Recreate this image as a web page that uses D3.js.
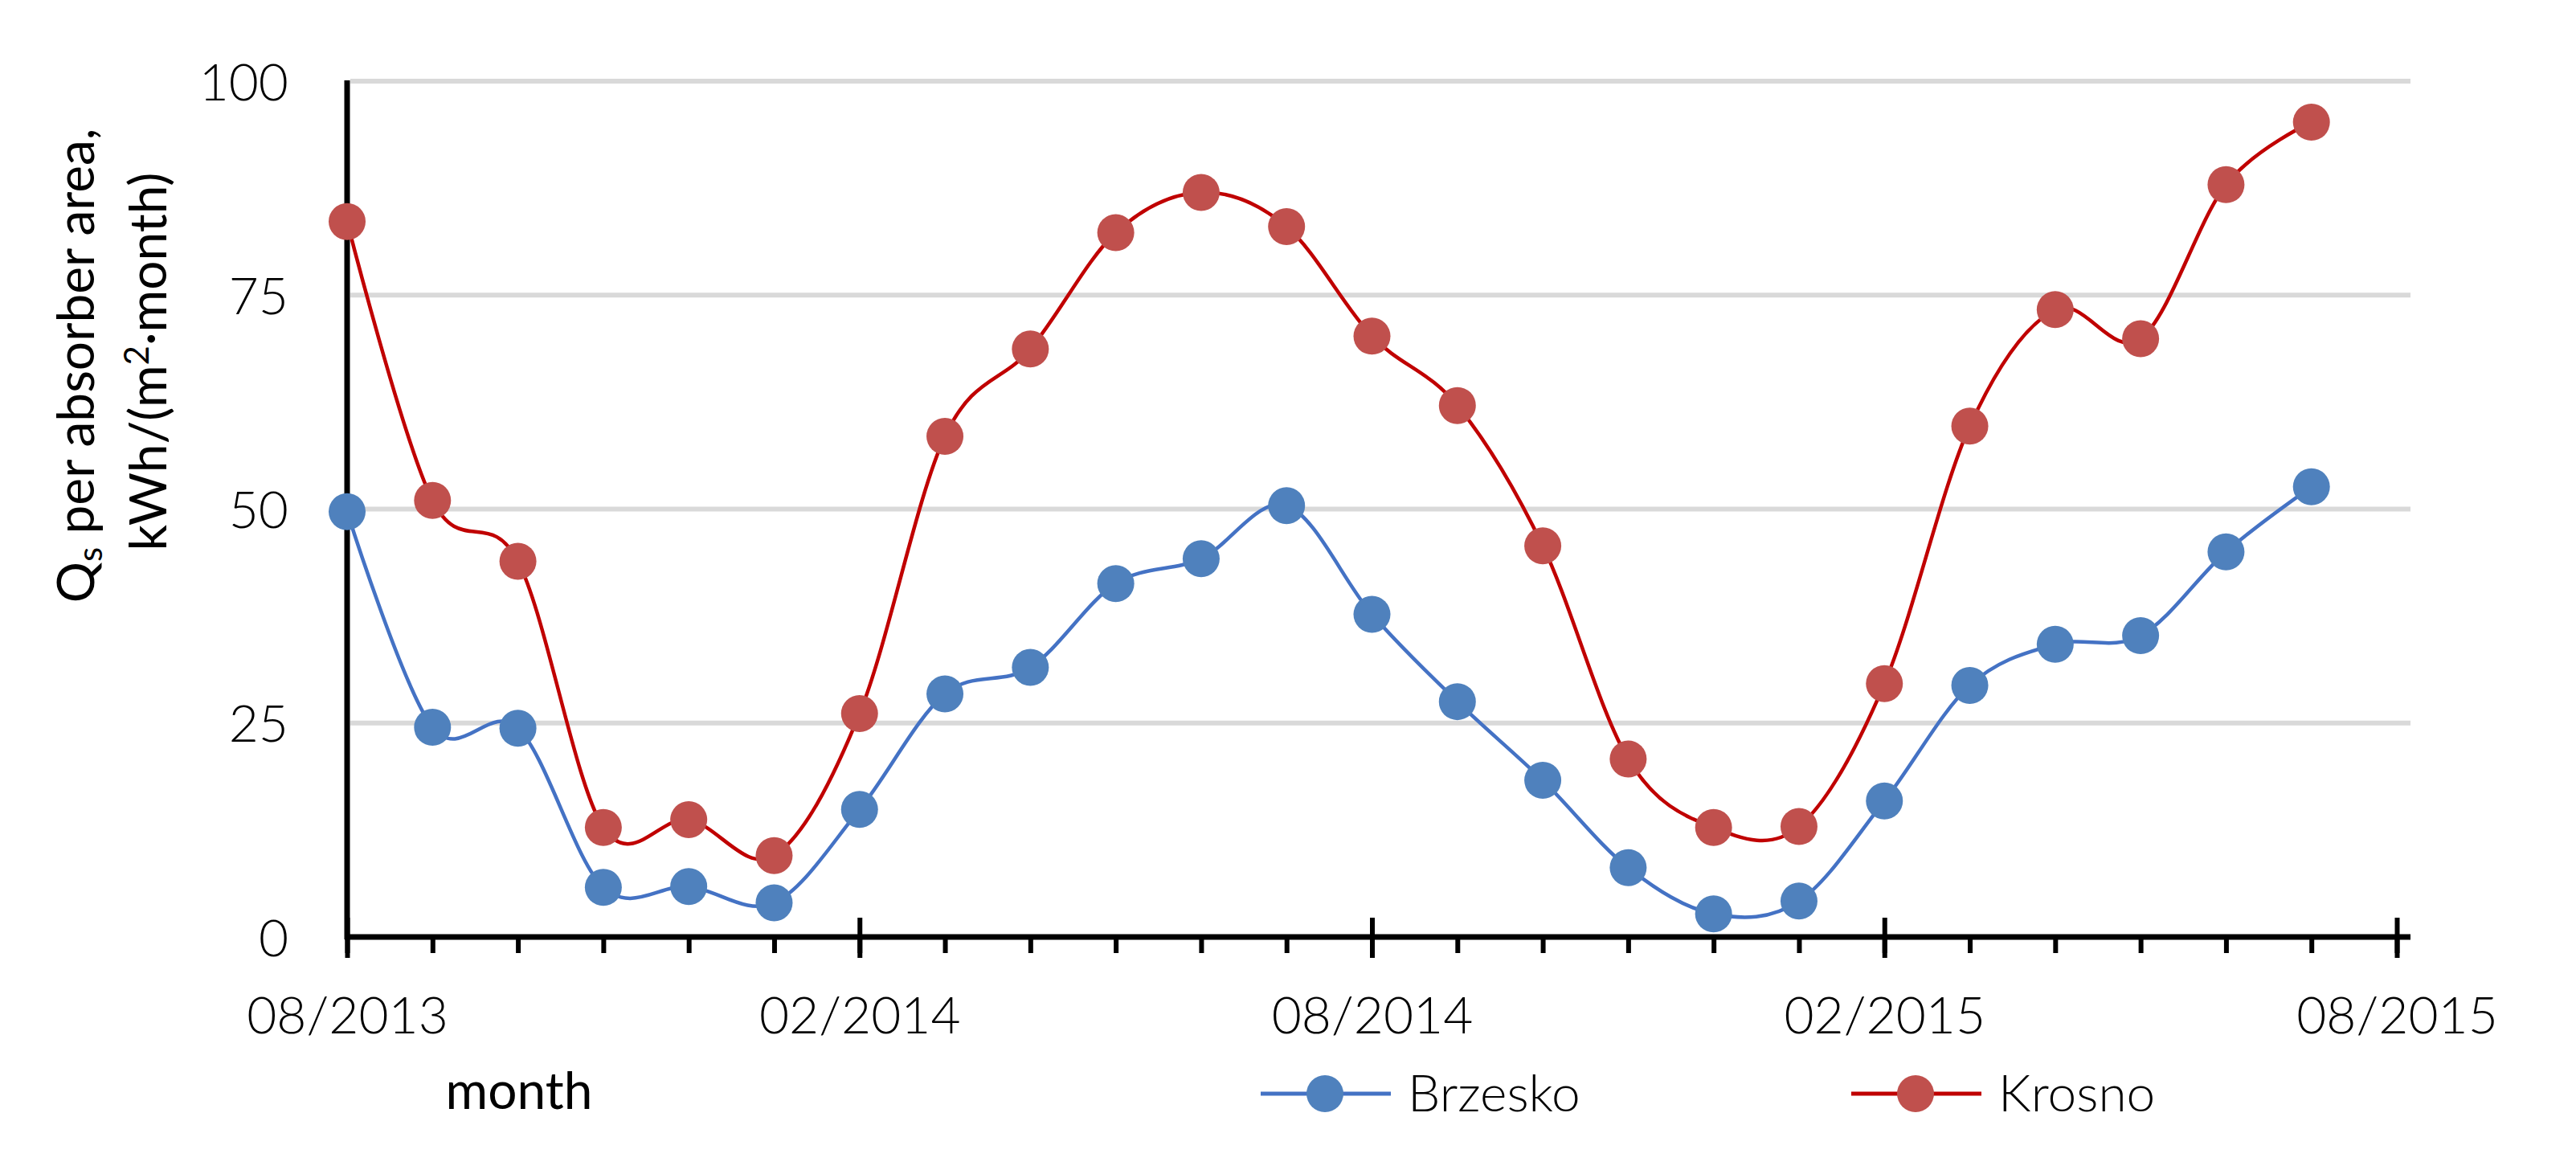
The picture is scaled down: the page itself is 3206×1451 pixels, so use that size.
<!DOCTYPE html>
<html lang="en">
  <head>
    <meta charset="utf-8">
    <title>Qs per absorber area</title>
    <style>
      body { margin: 0; background: #fff; }
      svg text { font-family: Lato, "Open Sans", sans-serif; fill: #000; }
      .grid line { stroke: #d9d9d9; stroke-width: 6px; }
      .axis line { stroke: #000; stroke-width: 6px; }
      .axis path { display: none; }
      .axis text { font-size: 64px; font-weight: 300; }
      .legend text { font-weight: 300; }
    </style>
  </head>
  <body>
    <svg id="chart" width="3206" height="1451"></svg>
<script src="https://d3js.org/d3.v7.min.js"></script>
<script>

// months from 08/2013 to 07/2015
var months = ["08/2013","09/2013","10/2013","11/2013","12/2013","01/2014",
              "02/2014","03/2014","04/2014","05/2014","06/2014","07/2014",
              "08/2014","09/2014","10/2014","11/2014","12/2014","01/2015",
              "02/2015","03/2015","04/2015","05/2015","06/2015","07/2015"];

var brzesko = [49.7, 24.5, 24.4, 5.8, 5.9, 4.0, 14.9, 28.4, 31.5, 41.3, 44.2, 50.4,
               37.7, 27.5, 18.3, 8.1, 2.7, 4.2, 15.9, 29.4, 34.2, 35.2, 45.0, 52.6];

var krosno = [83.6, 51.0, 43.9, 12.8, 13.7, 9.5, 26.1, 58.5, 68.7, 82.3, 87.0, 83.0,
              70.2, 62.1, 45.7, 20.8, 12.8, 12.9, 29.6, 59.7, 73.3, 69.9, 87.9, 95.2];

var xTickIdx = [0, 6, 12, 18, 24];
var xTickLabels = ["08/2013", "02/2014", "08/2014", "02/2015", "08/2015"];
var yTicks = [0, 25, 50, 75, 100];

var series = [
  {name: "Brzesko", values: brzesko, line: "#4472c4", marker: "#4f81bd"},
  {name: "Krosno",  values: krosno,  line: "#c00000", marker: "#c0504d"}
];

var svg = d3.select("#chart");

var x = d3.scaleLinear().domain([0, 24]).range([432, 2983]);
var y = d3.scaleLinear().domain([0, 100]).range([1166, 101]);

// gridlines
svg.append("g").attr("class", "grid")
  .selectAll("line")
  .data(yTicks.slice(1))
  .enter().append("line")
    .attr("x1", x(0) + 4)
    .attr("x2", x(24) + 17)
    .attr("y1", function(d) { return y(d); })
    .attr("y2", function(d) { return y(d); });

// y axis
var yAxis = svg.append("g").attr("class", "axis")
  .attr("transform", "translate(" + x(0) + ",0)")
  .call(d3.axisLeft(y).tickValues(yTicks).tickSize(0).tickPadding(73));
yAxis.selectAll("text").attr("dy", "0.36em");

// minor ticks, monthly
svg.append("g").attr("class", "axis")
  .attr("transform", "translate(0," + y(0) + ")")
  .call(d3.axisBottom(x).tickValues(d3.range(0, 25)).tickSize(20).tickFormat(""));

// major ticks with labels
var xAxis = svg.append("g").attr("class", "axis")
  .attr("transform", "translate(0," + y(0) + ")")
  .call(d3.axisBottom(x).tickValues(xTickIdx).tickSize(26)
          .tickFormat(function(d, i) { return xTickLabels[i]; }));
xAxis.selectAll("line").attr("y1", -24);
xAxis.selectAll("text").attr("y", 120).attr("dy", 0);

// axis lines
svg.append("line")
  .attr("x1", x(0)).attr("x2", x(0))
  .attr("y1", y(100) - 1).attr("y2", y(0) + 3)
  .attr("stroke", "#000").attr("stroke-width", 7);
svg.append("line")
  .attr("x1", x(0) - 3).attr("x2", x(24) + 17)
  .attr("y1", y(0)).attr("y2", y(0))
  .attr("stroke", "#000").attr("stroke-width", 7);

// series
var line = d3.line()
  .x(function(d, i) { return x(i); })
  .y(function(d) { return y(d); })
  .curve(d3.curveCardinal.tension(0));

series.forEach(function(s) {
  svg.append("path")
    .datum(s.values)
    .attr("fill", "none")
    .attr("stroke", s.line)
    .attr("stroke-width", 4.5)
    .attr("d", line);

  svg.append("g")
    .selectAll("circle")
    .data(s.values)
    .enter().append("circle")
      .attr("cx", function(d, i) { return x(i); })
      .attr("cy", function(d) { return y(d); })
      .attr("r", 23)
      .attr("fill", s.marker)
    .append("title").text(function(d, i) { return s.name + " " + months[i] + ": " + d; });
});

// axis titles
var yTitle = svg.append("text")
  .attr("transform", "translate(117,455) rotate(-90)")
  .attr("text-anchor", "middle")
  .style("font-size", "64px");
yTitle.append("tspan").text("Q");
yTitle.append("tspan").attr("dy", 10).style("font-size", "42px").text("s");
yTitle.append("tspan").attr("dy", -10).text(" per absorber area,");

var yTitle2 = svg.append("text")
  .attr("transform", "translate(207,450) rotate(-90)")
  .attr("text-anchor", "middle")
  .style("font-size", "64px");
yTitle2.append("tspan").text("kWh/(m");
yTitle2.append("tspan").attr("dy", -22).style("font-size", "42px").text("2");
yTitle2.append("tspan").attr("dy", 22).text("\u00b7month)");

svg.append("text")
  .attr("x", 646).attr("y", 1380)
  .attr("text-anchor", "middle")
  .style("font-size", "64px")
  .text("month");

// legend
var legendX = [1569, 2304];
var legend = svg.selectAll("g.legend")
  .data(series)
  .enter().append("g")
    .attr("class", "legend")
    .attr("transform", function(d, i) { return "translate(" + legendX[i] + ",1361)"; });

legend.append("line")
  .attr("x1", 0).attr("x2", 162)
  .attr("stroke", function(d) { return d.line; })
  .attr("stroke-width", 5);
legend.append("circle")
  .attr("cx", 80).attr("r", 23)
  .attr("fill", function(d) { return d.marker; });
legend.append("text")
  .attr("x", 183).attr("y", 22)
  .style("font-size", "64px")
  .text(function(d) { return d.name; });

</script>
  </body>
</html>
